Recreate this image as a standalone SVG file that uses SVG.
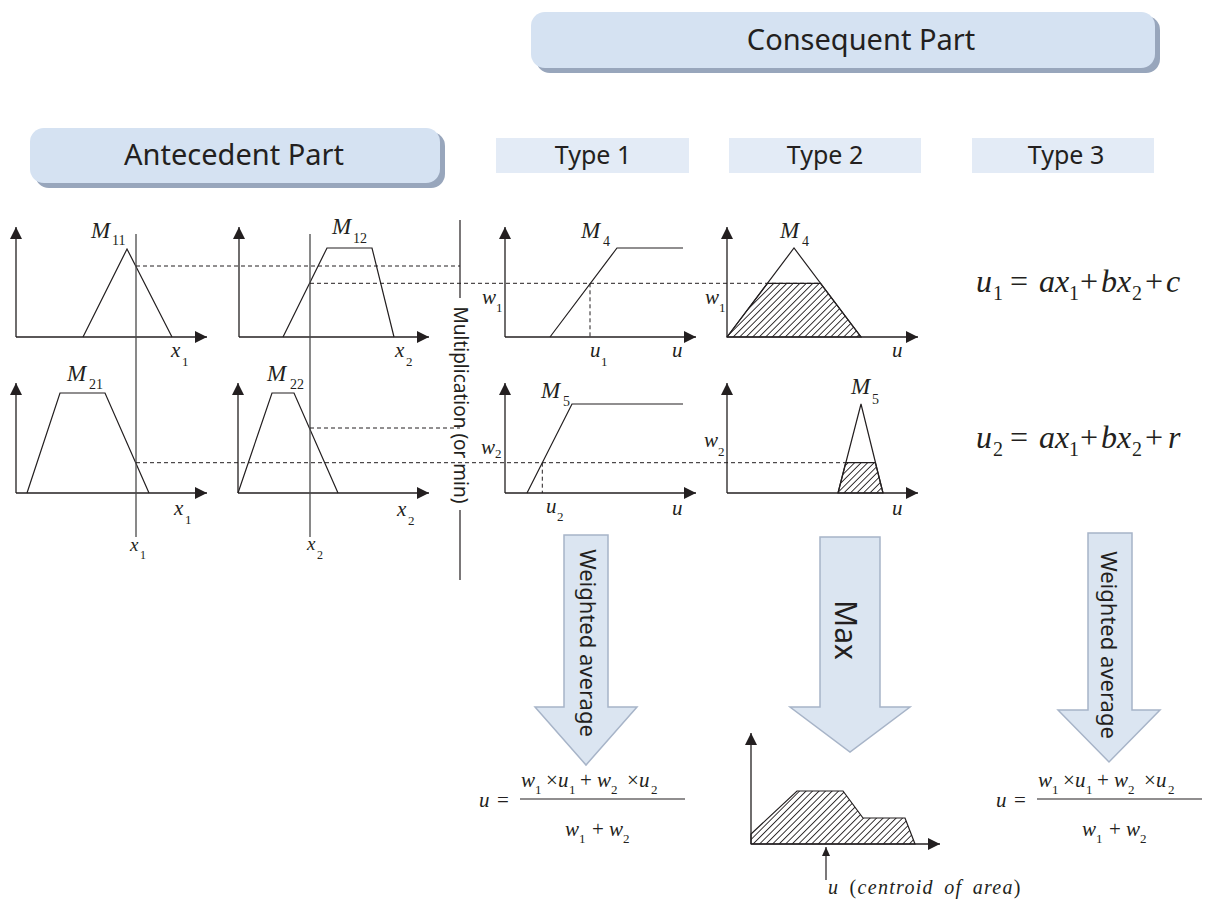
<svg xmlns="http://www.w3.org/2000/svg" width="1210" height="902" viewBox="0 0 1210 902">
<defs>
<marker id="ah" markerUnits="userSpaceOnUse" markerWidth="12" markerHeight="12" refX="12" refY="6" orient="auto"><path d="M0,0 L12,6 L0,12 z" fill="#231f20"/></marker>
<marker id="ahs" markerUnits="userSpaceOnUse" markerWidth="10" markerHeight="10" refX="9" refY="4" orient="auto"><path d="M0,0 L9,4 L0,8 z" fill="#231f20"/></marker>
<pattern id="hatch" width="4.6" height="4.6" patternUnits="userSpaceOnUse" patternTransform="rotate(45)"><line x1="2.3" y1="-1" x2="2.3" y2="6" stroke="#231f20" stroke-width="0.9"/></pattern>
</defs>
<style>
.ax{stroke:#231f20;stroke-width:1.3;fill:none;marker-end:url(#ah)}
.mf{stroke:#231f20;stroke-width:1.2;fill:none}
.vl{stroke:#4a4a4a;stroke-width:1.3;fill:none}
.dash{stroke:#231f20;stroke-width:1;stroke-dasharray:4 3;fill:none}
.hat{fill:url(#hatch);stroke:#231f20;stroke-width:1.2}
.it{font-family:'Liberation Serif',serif;font-style:italic;fill:#231f20}
.rm{font-family:'Liberation Serif',serif;fill:#231f20}
.sans{font-family:'Noto Sans',sans-serif;fill:#231f20}
.hdr{fill:#d5e2f2}
.shd{fill:#98a6bc}
.typ{fill:#e3ebf6}
.blk{fill:#dbe5f1;stroke:#a7b4c8;stroke-width:1.5}
</style>
<rect width="1210" height="902" fill="#ffffff"/>

<g id="consequent-header">
<rect class="shd" x="536" y="16" width="624" height="57" rx="14"/>
<rect class="hdr" x="531" y="12" width="624" height="56" rx="14"/>
<text class="sans" x="861" y="50" font-size="29" text-anchor="middle">Consequent Part</text>
</g>
<g id="antecedent-header">
<rect class="shd" x="35" y="132" width="410" height="56" rx="14"/>
<rect class="hdr" x="30" y="128" width="410" height="55" rx="14"/>
<text class="sans" x="234" y="165" font-size="29" text-anchor="middle">Antecedent Part</text>
</g>
<g id="type1-header">
<rect class="typ" x="496" y="138" width="193" height="35"/>
<text class="sans" x="593" y="164" font-size="25" text-anchor="middle">Type 1</text>
</g>
<g id="type2-header">
<rect class="typ" x="729" y="138" width="192" height="35"/>
<text class="sans" x="825" y="164" font-size="25" text-anchor="middle">Type 2</text>
</g>
<g id="type3-header">
<rect class="typ" x="972" y="138" width="182" height="35"/>
<text class="sans" x="1066" y="164" font-size="25" text-anchor="middle">Type 3</text>
</g>

<g id="plot-M11">
<path class="ax" d="M16,337 V227"/>
<path class="ax" d="M16,337 H207"/>
<polyline class="mf" points="83,337 127,249 172,337"/>
<text class="it" x="91" y="238" font-size="23">M</text><text class="rm" x="112" y="245" font-size="14">11</text>
<text class="it" x="171" y="357" font-size="21">x</text><text class="rm" x="182" y="366" font-size="13">1</text>
</g>
<g id="plot-M12">
<path class="ax" d="M239,337 V227"/>
<path class="ax" d="M239,337 H429"/>
<polyline class="mf" points="283,337 327,248 372,248 394,337"/>
<text class="it" x="332" y="234" font-size="23">M</text><text class="rm" x="353" y="243" font-size="14">12</text>
<text class="it" x="395" y="357" font-size="21">x</text><text class="rm" x="406" y="366" font-size="13">2</text>
</g>
<g id="plot-M21">
<path class="ax" d="M16,493 V383"/>
<path class="ax" d="M16,493 H207"/>
<polyline class="mf" points="27,493 60,393 105,393 149,493"/>
<text class="it" x="67" y="381" font-size="23">M</text><text class="rm" x="89" y="389" font-size="14">21</text>
<text class="it" x="174" y="515" font-size="21">x</text><text class="rm" x="185" y="524" font-size="13">1</text>
</g>
<g id="plot-M22">
<path class="ax" d="M238,493 V383"/>
<path class="ax" d="M238,493 H429"/>
<polyline class="mf" points="238,493 272,393 294,393 338,493"/>
<text class="it" x="267" y="381" font-size="23">M</text><text class="rm" x="290" y="389" font-size="14">22</text>
<text class="it" x="397" y="516" font-size="21">x</text><text class="rm" x="408" y="525" font-size="13">2</text>
</g>
<g id="input-x1">
<path class="vl" d="M136,234 V537"/>
<text class="it" x="130" y="551" font-size="19">x</text><text class="rm" x="140" y="559" font-size="12">1</text>
</g>
<g id="input-x2">
<path class="vl" d="M310,234 V537"/>
<text class="it" x="307" y="550" font-size="19">x</text><text class="rm" x="317" y="559" font-size="12">2</text>
</g>
<g id="multiplication">
<path class="mf" d="M460,220 V298 M460,510 V580" stroke-width="1.6"/>
<text class="sans" x="0" y="0" font-size="19" text-anchor="middle" dominant-baseline="central" transform="translate(461,405) rotate(90)">Multiplication (or min)</text>
</g>

<g id="type1-M4">
<path class="ax" d="M505,337 V227"/>
<path class="ax" d="M505,337 H696"/>
<polyline class="mf" points="550,337 617,248 683,248"/>
<text class="it" x="581" y="238" font-size="23">M</text><text class="rm" x="603" y="246" font-size="14">4</text>
<text class="it" x="482" y="304" font-size="21">w</text><text class="rm" x="496" y="312" font-size="13">1</text>
<text class="it" x="590" y="357" font-size="21">u</text><text class="rm" x="601" y="366" font-size="13">1</text>
<text class="it" x="672" y="357" font-size="21">u</text>
</g>
<g id="type2-M4">
<path class="ax" d="M727,337 V227"/>
<path class="ax" d="M727,337 H918"/>
<polygon class="hat" points="727,337 767.5,283.3 820.5,283.3 861,337"/>
<polyline class="mf" points="727,337 794,248 861,337"/>
<text class="it" x="780" y="238" font-size="23">M</text><text class="rm" x="802" y="246" font-size="14">4</text>
<text class="it" x="705" y="304" font-size="21">w</text><text class="rm" x="719" y="312" font-size="13">1</text>
<text class="it" x="892" y="357" font-size="21">u</text>
</g>
<g id="type1-M5">
<path class="ax" d="M505,493 V383"/>
<path class="ax" d="M505,493 H696"/>
<polyline class="mf" points="527,493 572,404 683,404"/>
<text class="it" x="541" y="398" font-size="23">M</text><text class="rm" x="563" y="406" font-size="14">5</text>
<text class="it" x="481" y="454" font-size="21">w</text><text class="rm" x="495" y="458" font-size="13">2</text>
<text class="it" x="546" y="513" font-size="21">u</text><text class="rm" x="557" y="521" font-size="13">2</text>
<text class="it" x="672" y="515" font-size="21">u</text>
</g>
<g id="type2-M5">
<path class="ax" d="M727,493 V383"/>
<path class="ax" d="M727,493 H918"/>
<polygon class="hat" points="838,493 845.7,462.7 875.3,462.7 883,493"/>
<polyline class="mf" points="838,493 861,404 883,493"/>
<text class="it" x="851" y="394" font-size="23">M</text><text class="rm" x="872" y="404" font-size="14">5</text>
<text class="it" x="704" y="447" font-size="21">w</text><text class="rm" x="718" y="456" font-size="13">2</text>
<text class="it" x="892" y="515" font-size="21">u</text>
</g>

<g id="type3-eq1">
<text font-size="32" y="292"><tspan class="it" x="976">u</tspan><tspan class="rm" x="993" y="300" font-size="20">1</tspan><tspan class="rm" x="1010" y="292">=</tspan><tspan class="it" x="1039">a</tspan><tspan class="it" x="1055">x</tspan><tspan class="rm" x="1069" y="300" font-size="20">1</tspan><tspan class="rm" x="1080" y="292">+</tspan><tspan class="it" x="1101">b</tspan><tspan class="it" x="1117">x</tspan><tspan class="rm" x="1132" y="300" font-size="20">2</tspan><tspan class="rm" x="1145" y="292">+</tspan><tspan class="it" x="1166">c</tspan></text>
</g>
<g id="type3-eq2">
<text font-size="32" y="448"><tspan class="it" x="976">u</tspan><tspan class="rm" x="993" y="456" font-size="20">2</tspan><tspan class="rm" x="1010" y="448">=</tspan><tspan class="it" x="1039">a</tspan><tspan class="it" x="1055">x</tspan><tspan class="rm" x="1069" y="456" font-size="20">1</tspan><tspan class="rm" x="1080" y="448">+</tspan><tspan class="it" x="1101">b</tspan><tspan class="it" x="1117">x</tspan><tspan class="rm" x="1132" y="456" font-size="20">2</tspan><tspan class="rm" x="1145" y="448">+</tspan><tspan class="it" x="1168">r</tspan></text>
</g>

<g id="arrow-weighted-1">
<polygon class="blk" points="564,535 608,535 608,707 637,707 586,765 535,707 564,707"/>
<text class="sans" x="0" y="0" font-size="22" text-anchor="middle" dominant-baseline="central" transform="translate(589,643) rotate(90)">Weighted average</text>
</g>
<g id="arrow-max">
<polygon class="blk" points="820,537 880,537 880,707 910,707 850,752 790,707 820,707"/>
<text class="sans" x="0" y="0" font-size="30" text-anchor="middle" dominant-baseline="central" transform="translate(846,630) rotate(90)">Max</text>
</g>
<g id="arrow-weighted-3">
<polygon class="blk" points="1088,533 1132,533 1132,710 1160,710 1109,762 1058,710 1088,710"/>
<text class="sans" x="0" y="0" font-size="22" text-anchor="middle" dominant-baseline="central" transform="translate(1110,645) rotate(90)">Weighted average</text>
</g>

<g id="formula-type1">
<text class="it" x="479" y="807" font-size="21">u</text><text class="rm" x="497" y="807" font-size="21">=</text>
<text font-size="21" y="787"><tspan class="it" x="521">w</tspan><tspan class="rm" x="535" y="794" font-size="13">1</tspan><tspan class="rm" x="546" y="787">×</tspan><tspan class="it" x="558">u</tspan><tspan class="rm" x="569" y="794" font-size="13">1</tspan><tspan class="rm" x="580" y="787">+</tspan><tspan class="it" x="597">w</tspan><tspan class="rm" x="611" y="794" font-size="13">2</tspan><tspan class="rm" x="627" y="787">×</tspan><tspan class="it" x="639">u</tspan><tspan class="rm" x="651" y="794" font-size="13">2</tspan></text>
<path class="mf" d="M520,799 H685" stroke-width="1"/>
<text font-size="21" y="836"><tspan class="it" x="565">w</tspan><tspan class="rm" x="579" y="843" font-size="13">1</tspan><tspan class="rm" x="592" y="836">+</tspan><tspan class="it" x="609">w</tspan><tspan class="rm" x="623" y="843" font-size="13">2</tspan></text>
</g>
<g id="formula-type3">
<text class="it" x="996" y="807" font-size="21">u</text><text class="rm" x="1014" y="807" font-size="21">=</text>
<text font-size="21" y="787"><tspan class="it" x="1038">w</tspan><tspan class="rm" x="1052" y="794" font-size="13">1</tspan><tspan class="rm" x="1063" y="787">×</tspan><tspan class="it" x="1075">u</tspan><tspan class="rm" x="1086" y="794" font-size="13">1</tspan><tspan class="rm" x="1097" y="787">+</tspan><tspan class="it" x="1114">w</tspan><tspan class="rm" x="1128" y="794" font-size="13">2</tspan><tspan class="rm" x="1144" y="787">×</tspan><tspan class="it" x="1156">u</tspan><tspan class="rm" x="1168" y="794" font-size="13">2</tspan></text>
<path class="mf" d="M1037,799 H1202" stroke-width="1"/>
<text font-size="21" y="836"><tspan class="it" x="1082">w</tspan><tspan class="rm" x="1096" y="843" font-size="13">1</tspan><tspan class="rm" x="1109" y="836">+</tspan><tspan class="it" x="1126">w</tspan><tspan class="rm" x="1140" y="843" font-size="13">2</tspan></text>
</g>

<g id="max-result">
<path class="ax" d="M751,844 V733"/>
<path class="ax" d="M751,844 H940"/>
<polygon class="hat" points="751,844 751,834 797,791 843,791 863,818 905,818 915,844"/>
<path class="mf" d="M826,880 V847" marker-end="url(#ahs)"/>
<text x="828" y="894" font-size="20" letter-spacing="1.3" word-spacing="4"><tspan class="it">u</tspan><tspan class="rm"> (</tspan><tspan class="it">centroid of area</tspan><tspan class="rm">)</tspan></text>
</g>

<g id="connectors">
<path class="dash" d="M136,266 H460"/>
<path class="dash" d="M310,283.3 H820.5"/>
<path class="dash" d="M136,462.7 H845.7"/>
<path class="dash" d="M310,428 H460"/>
<path class="dash" d="M590,283.3 V337"/>
<path class="dash" d="M542.3,462.7 V493"/>
</g>
</svg>
